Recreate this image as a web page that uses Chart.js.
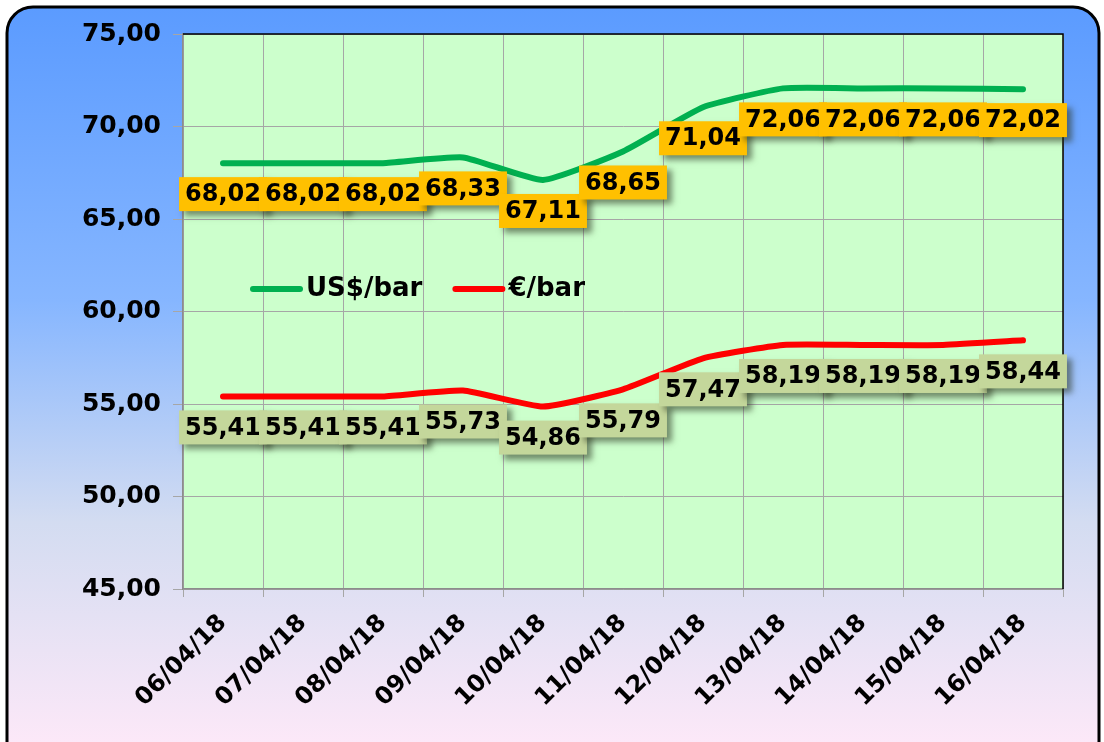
<!DOCTYPE html>
<html>
<head>
<meta charset="utf-8">
<script src="https://cdn.jsdelivr.net/npm/chart.js@4.4.1/dist/chart.umd.min.js"></script>
<style>
  html, body { margin: 0; padding: 0; background: #fff; }
  #wrap { position: relative; width: 1104px; height: 742px; }
</style>
</head>
<body>
<div id="wrap"><canvas id="chart" width="1104" height="742"></canvas></div>
<script>
const dates = ['06/04/18', '07/04/18', '08/04/18', '09/04/18', '10/04/18', '11/04/18',
               '12/04/18', '13/04/18', '14/04/18', '15/04/18', '16/04/18'];
const usdPerBarrel = [68.02, 68.02, 68.02, 68.33, 67.11, 68.65, 71.04, 72.06, 72.06, 72.06, 72.02];
const eurPerBarrel = [55.41, 55.41, 55.41, 55.73, 54.86, 55.79, 57.47, 58.19, 58.19, 58.19, 58.44];
const seriesNames = ['US$/bar', '€/bar'];
const yMin = 45, yMax = 75, yStep = 5;

const FONT = 'DejaVu Sans';
const fmt = v => v.toFixed(2).replace('.', ',');

// outer rounded panel + plot background
const panelPlugin = {
  id: 'panel',
  beforeDraw(chart) {
    const { ctx, chartArea: a } = chart;
    ctx.save();
    const g = ctx.createLinearGradient(0, 7, 0, 742);
    g.addColorStop(0, '#5B9BFF');
    g.addColorStop(0.4, '#86B6FF');
    g.addColorStop(0.7, '#D3DCF1');
    g.addColorStop(1, '#FCE8F8');
    ctx.beginPath();
    ctx.roundRect(7, 7, 1092, 760, 26);
    ctx.fillStyle = g;
    ctx.fill();
    ctx.lineWidth = 3;
    ctx.strokeStyle = '#000';
    ctx.stroke();
    ctx.fillStyle = '#CCFFCC';
    ctx.fillRect(a.left, a.top, a.right - a.left, a.bottom - a.top);
    ctx.restore();
  },
  beforeDatasetsDraw(chart) {
    const { ctx, chartArea: a } = chart;
    ctx.save();
    ctx.strokeStyle = '#000';
    ctx.lineWidth = 1.5;
    ctx.beginPath();
    ctx.moveTo(a.left, a.top);
    ctx.lineTo(a.right, a.top);
    ctx.lineTo(a.right, a.bottom);
    ctx.stroke();
    ctx.restore();
  }
};

// value boxes under each point
const boxColors = ['#FFC000', '#C4D79B'];
const valueBoxPlugin = {
  id: 'valueBoxes',
  afterDatasetsDraw(chart) {
    const { ctx } = chart;
    ctx.save();
    ctx.font = `bold 24px "${FONT}"`;
    ctx.textBaseline = 'middle';
    chart.data.datasets.forEach((ds, i) => {
      const meta = chart.getDatasetMeta(i);
      meta.data.forEach((pt, j) => {
        const txt = fmt(ds.data[j]);
        const w = ctx.measureText(txt).width + 12;
        const h = 34;
        const x = pt.x - w / 2;
        const y = pt.y + 14;
        ctx.shadowColor = 'rgba(40,50,30,0.55)';
        ctx.shadowBlur = 6;
        ctx.shadowOffsetX = 5;
        ctx.shadowOffsetY = 5;
        ctx.fillStyle = boxColors[i];
        ctx.fillRect(x, y, w, h);
        ctx.shadowColor = 'transparent';
        ctx.fillStyle = '#000';
        ctx.fillText(txt, x + 6, y + h / 2 + 1);
      });
    });
    ctx.restore();
  }
};

// legend drawn inside the plot area
const innerLegendPlugin = {
  id: 'innerLegend',
  afterDraw(chart) {
    const { ctx, chartArea: a } = chart;
    ctx.save();
    ctx.font = `bold 26px "${FONT}"`;
    ctx.textBaseline = 'middle';
    let x = a.left + 67;
    const y = a.top + 255;
    chart.data.datasets.forEach(ds => {
      ctx.strokeStyle = ds.borderColor;
      ctx.lineWidth = 6;
      ctx.lineCap = 'round';
      ctx.beginPath();
      ctx.moveTo(x + 3, y);
      ctx.lineTo(x + 50, y);
      ctx.stroke();
      ctx.fillStyle = '#000';
      ctx.fillText(ds.label, x + 56, y);
      x += 56 + ctx.measureText(ds.label).width + 30;
    });
    ctx.restore();
  }
};

new Chart(document.getElementById('chart'), {
  type: 'line',
  data: {
    labels: dates,
    datasets: [
      {
        label: seriesNames[0],
        data: usdPerBarrel,
        borderColor: '#00B050',
        borderWidth: 6,
        borderCapStyle: 'round',
        pointRadius: 0,
        tension: 0.15
      },
      {
        label: seriesNames[1],
        data: eurPerBarrel,
        borderColor: '#FF0000',
        borderWidth: 6,
        borderCapStyle: 'round',
        pointRadius: 0,
        tension: 0.15
      }
    ]
  },
  options: {
    responsive: false,
    devicePixelRatio: 1,
    animation: false,
    layout: { padding: { top: 34, right: 41, bottom: 0, left: 0 } },
    plugins: {
      legend: { display: false },
      tooltip: { enabled: false },
      title: { display: false }
    },
    scales: {
      y: {
        min: yMin,
        max: yMax,
        afterFit(scale) { scale.width = 183; },
        ticks: {
          stepSize: yStep,
          color: '#000',
          padding: 12,
          font: { family: FONT, size: 25, weight: 'bold' },
          callback: v => fmt(v)
        },
        grid: { color: '#A6A6A6', lineWidth: 1, tickLength: 10 },
        border: { color: '#8C8C8C', width: 1.5 }
      },
      x: {
        offset: true,
        afterFit(scale) { scale.height = 153; },
        ticks: {
          color: '#000',
          maxRotation: 45,
          minRotation: 45,
          padding: 12,
          font: { family: FONT, size: 24, weight: 'bold' }
        },
        grid: { offset: true, color: '#A6A6A6', lineWidth: 1, tickLength: 8 },
        border: { color: '#8C8C8C', width: 1.5 }
      }
    }
  },
  plugins: [panelPlugin, valueBoxPlugin, innerLegendPlugin]
});
</script>
</body>
</html>
